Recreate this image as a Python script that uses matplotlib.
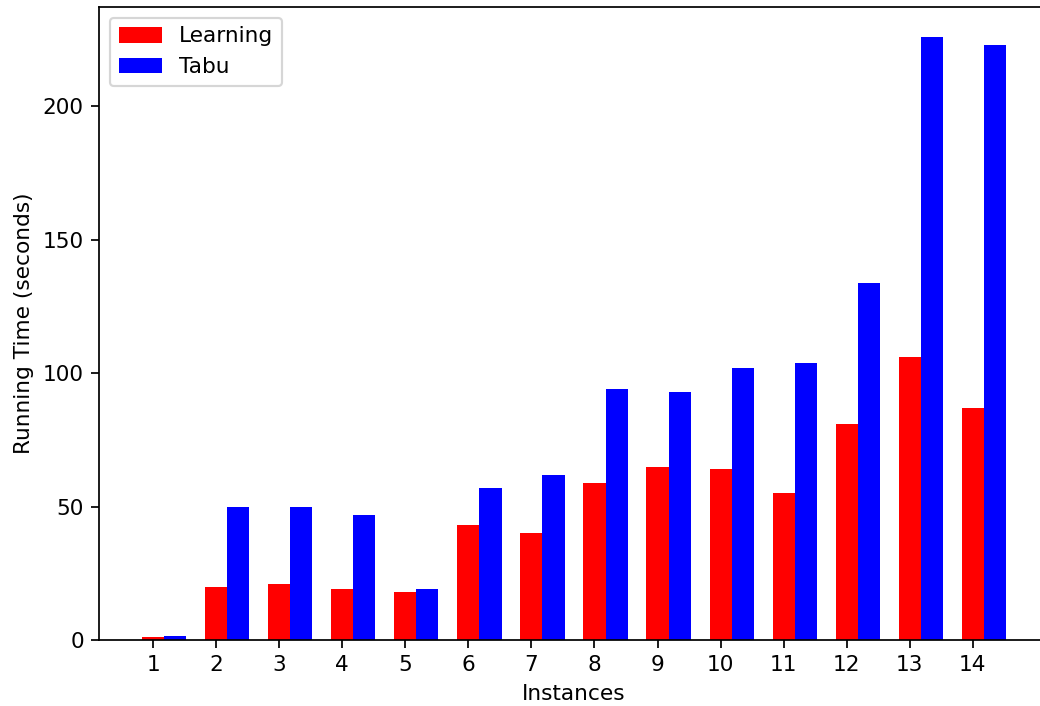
import matplotlib
matplotlib.use("Agg")
import matplotlib.pyplot as plt
import numpy as np

instances = list(range(1, 15))
learning = [1, 20, 21, 19, 18, 43, 40, 59, 65, 64, 55, 81, 106, 87]
tabu = [1.5, 50, 50, 47, 19, 57, 62, 94, 93, 102, 104, 134, 226, 223]

DPI = 156
fig = plt.figure(figsize=(1040/DPI, 706/DPI), dpi=DPI)
ax = fig.add_axes([99/1040, 66/706, 950/1040, 633/706])
x = np.array(instances)
w = 0.35
ax.bar(x, learning, w, color='red', label='Learning')
ax.bar(x + w, tabu, w, color='blue', label='Tabu')
ax.set_xticks(x)
ax.set_xticklabels([str(i) for i in instances])
ax.set_xlabel('Instances')
ax.set_ylabel('Running Time (seconds)')
ax.legend(loc='upper left')
fig.savefig('out.png', dpi=DPI)
